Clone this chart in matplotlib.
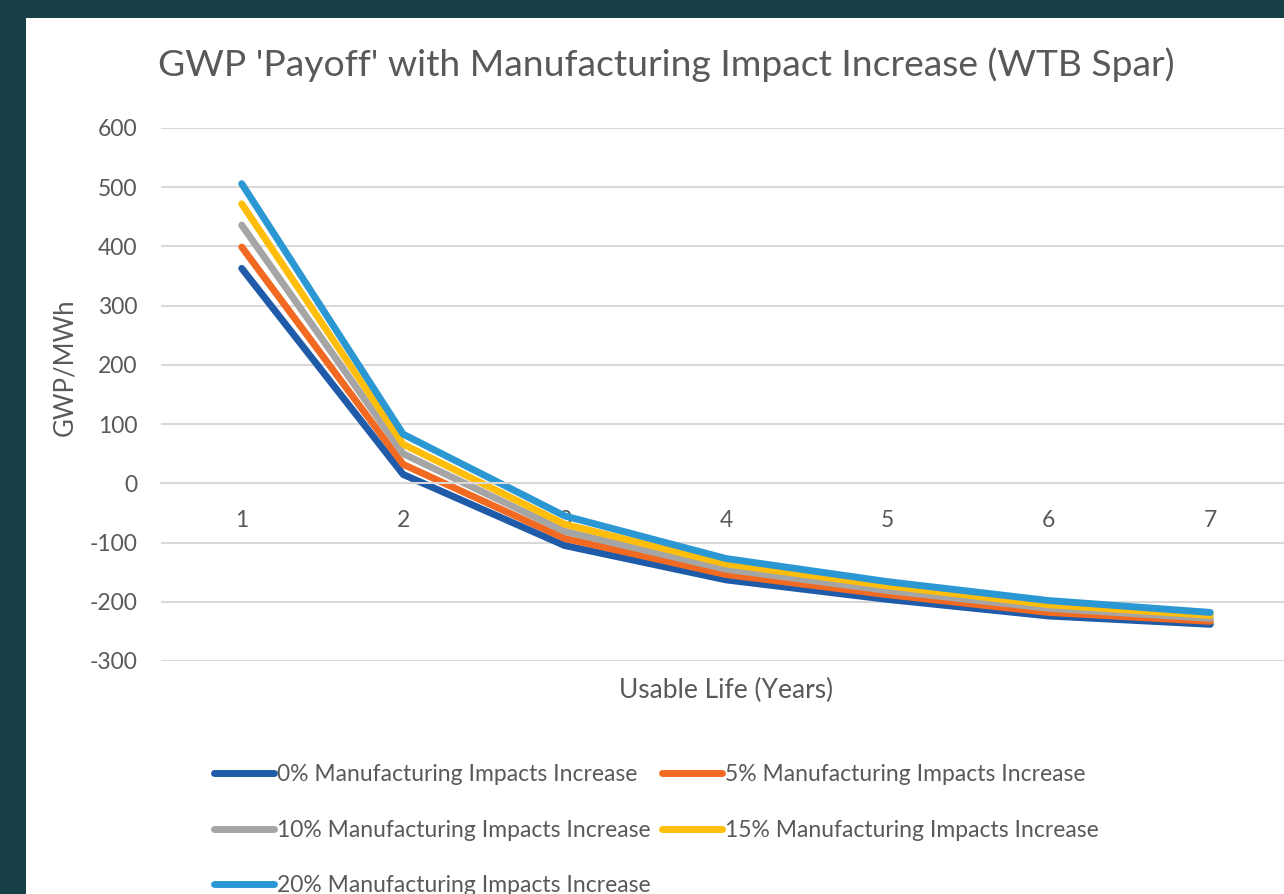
import matplotlib
matplotlib.use("Agg")
import matplotlib.pyplot as plt
from matplotlib.patches import Rectangle

plt.rcParams['font.family'] = ['Lato', 'DejaVu Sans']
plt.rcParams['axes.unicode_minus'] = False

# Data
years = [1, 2, 3, 4, 5, 6, 7]
inc_0 = [363, 15, -105, -163, -196, -224, -238]
inc_5 = [399, 32, -93, -154, -188, -218, -233]
inc_10 = [436, 50, -81, -145, -181, -211, -228]
inc_15 = [472, 66, -69, -136, -173, -205, -223]
inc_20 = [506, 83, -55, -127, -166, -198, -218]

series = [inc_0, inc_5, inc_10, inc_15, inc_20]
labels = ['0% Manufacturing Impacts Increase',
          '5% Manufacturing Impacts Increase',
          '10% Manufacturing Impacts Increase',
          '15% Manufacturing Impacts Increase',
          '20% Manufacturing Impacts Increase']
colors = ['#1f5ba8', '#f26a22', '#a5a5a5', '#ffbe0b', '#2b98d4']
yticks = [-300, -200, -100, 0, 100, 200, 300, 400, 500, 600]

W, H = 1284, 894
fig = plt.figure(figsize=(W / 100, H / 100), dpi=100)
fig.patch.set_facecolor('#163f48')
# white chart area behind the axes
fig.patches.append(Rectangle((26 / W, 0), 1.0, 1 - 18 / H, transform=fig.transFigure,
                             facecolor='white', edgecolor='none', zorder=-10))

ax = fig.add_axes([161 / W, 1 - 661 / H, (1291 - 161) / W, (661 - 128) / H])
ax.set_facecolor('white')

lines = []
for vals, lab, col in zip(series, labels, colors):
    ln, = ax.plot(years, vals, color=col, lw=5, label=lab,
                  solid_capstyle='round', solid_joinstyle='round')
    lines.append(ln)

ax.set_xlim(0.5, 7.5)
ax.set_ylim(-300, 600)
ax.set_yticks(yticks)
ax.set_xticks(years)
ax.grid(axis='y', color='#d9d9d9', lw=1.5)
ax.set_axisbelow(True)
for s in ['top', 'right', 'left']:
    ax.spines[s].set_visible(False)
ax.spines['bottom'].set_position(('data', 0))
ax.spines['bottom'].set_color('#d9d9d9')
ax.spines['bottom'].set_linewidth(1.5)
ax.tick_params(axis='both', length=0, labelsize=16.5, colors='#595959')
ax.tick_params(axis='y', pad=17)
ax.tick_params(axis='x', pad=19)

fig.text(666 / W, 1 - 65 / H, "GWP 'Payoff' with Manufacturing Impact Increase (WTB Spar)",
         ha='center', va='center', fontsize=26.8, color='#595959')
fig.text(726 / W, 1 - 690 / H, 'Usable Life (Years)', ha='center', va='center',
         fontsize=19, color='#595959')
fig.text(65 / W, 1 - 367 / H, 'GWP/MWh', ha='center', va='center', rotation=90,
         fontsize=18.5, color='#595959')

# row-wise legend order like Excel
order = [0, 2, 4, 1, 3]
leg = fig.legend([lines[i] for i in order], [labels[i] for i in order],
                 loc='upper left', bbox_to_anchor=(205 / W, 1 - 755 / H), ncol=2,
                 frameon=False, fontsize=16.5, handlelength=2.6, handletextpad=0.15,
                 columnspacing=0.5, labelspacing=1.5, borderaxespad=0)
for t in leg.get_texts():
    t.set_color('#595959')

fig.savefig('out.png', dpi=100, facecolor=fig.get_facecolor())
